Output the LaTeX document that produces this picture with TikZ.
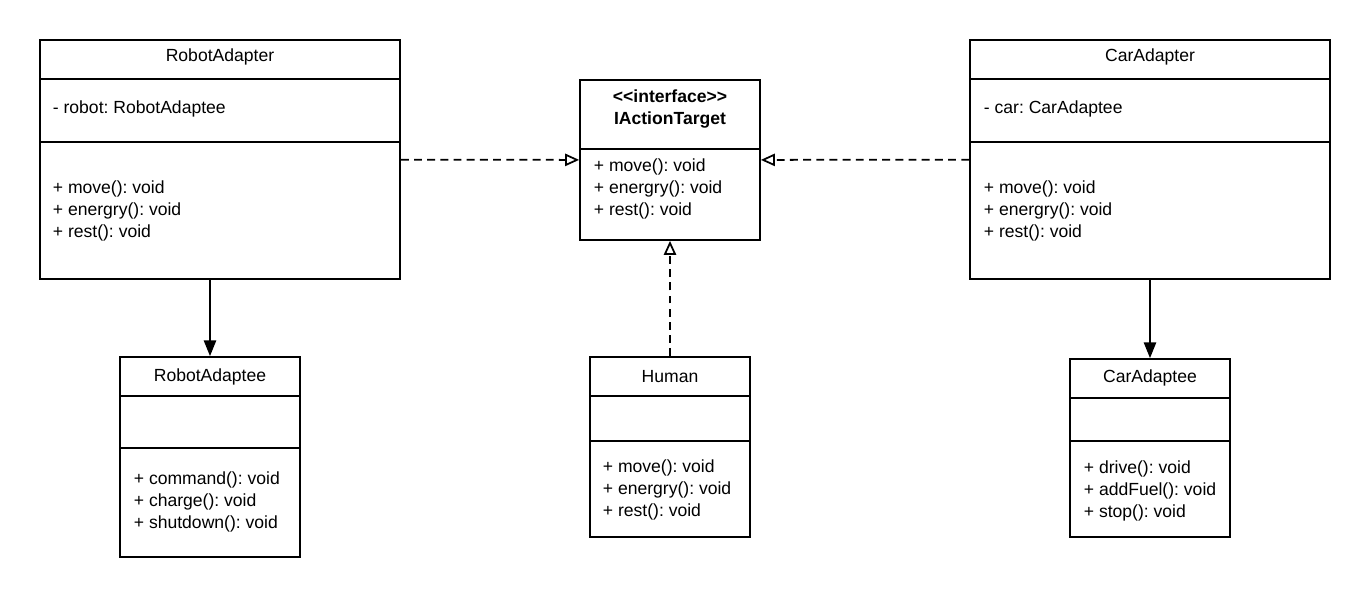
\documentclass[tikz,border=0pt]{standalone}
\usepackage{fontspec}
\setmainfont{Liberation Sans}
\frenchspacing
\usetikzlibrary{positioning,arrows.meta}

\begin{document}
\begin{tikzpicture}[x=0.02cm, y=-0.02cm, line width=1pt,
    classbox/.style={draw, inner sep=0pt},
    txt/.style={inner sep=0pt, font=\fontsize{10}{12.3}\selectfont, align=left},
    realize/.style={dashed, dash pattern=on 4.5pt off 3pt, -{Triangle[open, length=8pt, width=7pt]}},
    assoc/.style={-{Triangle[length=9pt, width=7pt]}}]
    \useasboundingbox (0,0) rectangle (1370,598);

    % adapters and target
    \node[classbox, minimum width=7.2cm, minimum height=4.78cm] (robotadapter) at (220,159.5) {};
    \node[classbox, minimum width=3.6cm, minimum height=3.2cm] (target) at (670,160) {};
    \node[classbox, minimum width=7.2cm, minimum height=4.78cm] (caradapter) at (1150,159.5) {};

    % adaptees and human
    \node[classbox, minimum width=3.6cm, minimum height=4cm] (robotadaptee) at (210,457) {};
    \node[classbox, minimum width=3.2cm, minimum height=3.6cm] (human) at (670,447) {};
    \node[classbox, minimum width=3.2cm, minimum height=3.56cm] (caradaptee) at (1150,448) {};

    % compartments
    \draw (40,79) -- (400,79) (40,142) -- (400,142);
    \draw (580,149) -- (760,149);
    \draw (970,79) -- (1330,79) (970,142) -- (1330,142);
    \draw (120,396) -- (300,396) (120,448) -- (300,448);
    \draw (590,396) -- (750,396) (590,441) -- (750,441);
    \draw (1070,398) -- (1230,398) (1070,441) -- (1230,441);

    % texts
    \node[txt] (ra-name) at (220,57) {RobotAdapter};
    \node[txt, anchor=west] (ra-attr) at (52,109) {- robot: RobotAdaptee};
    \node[txt, anchor=west] (ra-ops) at (52,211) {+ move(): void\\+ energry(): void\\+ rest(): void};

    \node[txt, align=center, font=\fontsize{10}{12.3}\selectfont\bfseries] (t-name) at (670,109) {{<}{<}interface{>}{>}\\IActionTarget};
    \node[txt, anchor=west] (t-ops) at (593,189) {+ move(): void\\+ energry(): void\\+ rest(): void};

    \node[txt] (ca-name) at (1150,57) {CarAdapter};
    \node[txt, anchor=west] (ca-attr) at (983,109) {- car: CarAdaptee};
    \node[txt, anchor=west] (ca-ops) at (983,211) {+ move(): void\\+ energry(): void\\+ rest(): void};

    \node[txt] (rd-name) at (210,377) {RobotAdaptee};
    \node[txt, anchor=west] (rd-ops) at (133,502) {+ command(): void\\+ charge(): void\\+ shutdown(): void};

    \node[txt] (h-name) at (670,377) {Human};
    \node[txt, anchor=west] (h-ops) at (602,490) {+ move(): void\\+ energry(): void\\+ rest(): void};

    \node[txt] (cd-name) at (1150,378) {CarAdaptee};
    \node[txt, anchor=west] (cd-ops) at (1083,491) {+ drive(): void\\+ addFuel(): void\\+ stop(): void};

    % connectors
    \draw[realize] (robotadapter) -- (target);
    \draw[realize] (caradapter) -- (target);
    \draw[realize] (human) -- (target);
    \draw[assoc] (robotadapter.south -| robotadaptee) -- (robotadaptee);
    \draw[assoc] (caradapter) -- (caradaptee);
\end{tikzpicture}
\end{document}
